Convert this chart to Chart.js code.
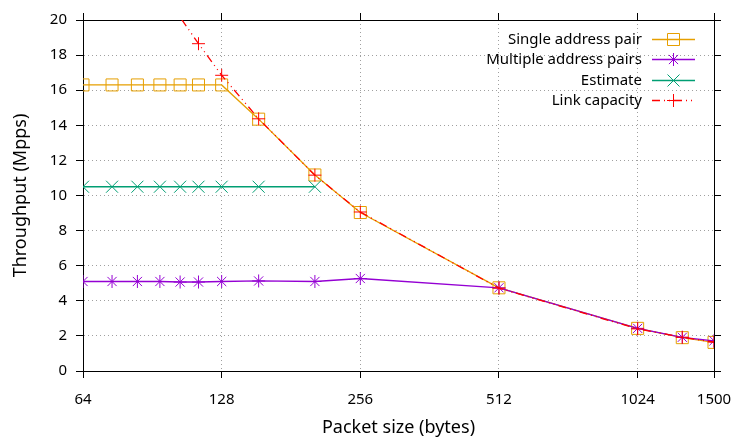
<!DOCTYPE html>
<html>
<head>
<meta charset="utf-8">
<script src="https://cdn.jsdelivr.net/npm/chart.js@4/dist/chart.umd.min.js"></script>
<style>
  html, body { margin: 0; padding: 0; background: #fff; }
  #wrap { width: 732px; height: 439px; }
</style>
</head>
<body>
<div id="wrap"><canvas id="chart" width="732" height="439"></canvas></div>
<script>
// ===== DATA =====
const packetSizes = [64, 74, 84, 94, 104, 114, 128, 154, 204, 256, 512, 1024, 1280, 1500];
const singlePair   = [16.3, 16.3, 16.3, 16.3, 16.3, 16.3, 16.3, 14.35, 11.17, 9.03, 4.74, 2.43, 1.9, 1.63];
const multiplePairs = [5.1, 5.1, 5.1, 5.1, 5.07, 5.07, 5.1, 5.13, 5.1, 5.27, 4.74, 2.43, 1.92, 1.72];
const estimate     = [10.5, 10.5, 10.5, 10.5, 10.5, 10.5, 10.5, 10.5, 10.5, null, null, null, null, null];
const linkCapacity = [29.8, 26.6, 24.0, 21.9, 20.16, 18.65, 16.85, 14.37, 11.16, 9.06, 4.72, 2.4, 1.92, 1.65];
const xTicks = [64, 128, 256, 512, 1024, 1500];
const yMin = 0, yMax = 20, yStep = 2;

const FONT = "'Noto Sans', sans-serif";
Chart.defaults.font.family = FONT;
Chart.defaults.font.size = 15;
Chart.defaults.color = '#000';

const toPoints = vals => packetSizes.map((x, i) => ({ x, y: vals[i] })).filter(p => p.y !== null);

const series = [
  { label: 'Single address pair', values: singlePair, color: '#e69f00', marker: 'square', dash: [] },
  { label: 'Multiple address pairs', values: multiplePairs, color: '#9400d3', marker: 'star', dash: [] },
  { label: 'Estimate', values: estimate, color: '#009e73', marker: 'x', dash: [] },
  { label: 'Link capacity', values: linkCapacity, color: '#ff0000', marker: 'plus', dash: [8, 4, 1, 4, 1, 4] },
];

// chart.js point styles for gnuplot-like markers
const styleMap = { square: 'rect', star: 'star', x: 'crossRot', plus: 'cross' };
const radiusMap = { square: 8.5, star: 6.5, x: 8.5, plus: 6.5 };

// ===== HELPERS =====
function drawMarker(ctx, kind, x, y, color) {
  ctx.save();
  ctx.strokeStyle = color;
  ctx.lineWidth = 1;
  ctx.setLineDash([]);
  ctx.beginPath();
  if (kind === 'square') {
    ctx.rect(x - 6, y - 6, 12, 12);
  } else if (kind === 'plus' || kind === 'star') {
    ctx.moveTo(x - 6.5, y); ctx.lineTo(x + 6.5, y);
    ctx.moveTo(x, y - 6.5); ctx.lineTo(x, y + 6.5);
  }
  if (kind === 'x' || kind === 'star') {
    const d = kind === 'x' ? 6 : 4.6;
    ctx.moveTo(x - d, y - d); ctx.lineTo(x + d, y + d);
    ctx.moveTo(x - d, y + d); ctx.lineTo(x + d, y - d);
  }
  ctx.stroke();
  ctx.restore();
}

// gnuplot style key, text right aligned with the sample on its right
const keyPlugin = {
  id: 'gnuKey',
  afterDraw(chart) {
    const ctx = chart.ctx;
    const textRight = 642, lineL = 652, lineR = 695, top = 39, rowH = 20.3;
    ctx.save();
    ctx.font = `15px ${FONT}`;
    ctx.textAlign = 'right';
    ctx.textBaseline = 'middle';
    series.forEach((s, i) => {
      const y = Math.round(top + i * rowH) + 0.5;
      ctx.fillStyle = '#000';
      ctx.fillText(s.label, textRight, y);
      ctx.strokeStyle = s.color;
      ctx.lineWidth = 1.3;
      ctx.setLineDash(s.dash);
      ctx.beginPath();
      ctx.moveTo(lineL, y);
      ctx.lineTo(lineR, y);
      ctx.stroke();
      drawMarker(ctx, s.marker, (lineL + lineR) / 2, y, s.color);
    });
    ctx.restore();
  }
};

const setXTicks = scale => { scale.ticks = xTicks.map(v => ({ value: v })); };

const gridOpts = (onArea) => ({
  drawOnChartArea: onArea,
  color: '#a0a0a0',
  lineWidth: 1,
  tickColor: '#000',
  tickLength: 7,
  tickWidth: 1,
});
const borderOpts = { color: '#000', width: 1, dash: [1, 3] };

// ===== CHART =====
new Chart(document.getElementById('chart'), {
  type: 'line',
  data: {
    datasets: series.map((s, i) => ({
      label: s.label,
      data: toPoints(s.values),
      borderColor: s.color,
      backgroundColor: 'transparent',
      borderWidth: 1.3,
      borderDash: s.dash,
      pointStyle: styleMap[s.marker],
      pointRadius: ctx => (ctx.raw && ctx.raw.y > yMax ? 0 : radiusMap[s.marker]),
      pointBorderWidth: 1,
      pointBorderColor: s.color,
      pointBackgroundColor: 'transparent',
      pointHoverRadius: 0,
      tension: 0,
      order: series.length - i,
    }))
  },
  options: {
    responsive: false,
    devicePixelRatio: 1,
    animation: false,
    events: [],
    layout: { padding: 0 },
    plugins: { legend: { display: false }, tooltip: { enabled: false } },
    scales: {
      x: {
        type: 'logarithmic',
        position: 'bottom',
        min: 64, max: 1500,
        afterBuildTicks: setXTicks,
        afterFit: s => { s.height = 68; s.paddingLeft = 0; s.paddingRight = 0; },
        ticks: { autoSkip: false, maxRotation: 0, padding: 13, callback: v => String(v) },
        grid: gridOpts(true),
        border: borderOpts,
        title: { display: true, text: 'Packet size (bytes)', font: { size: 18 }, padding: { top: 0, bottom: 0 } },
      },
      x2: {
        type: 'logarithmic',
        position: 'top',
        min: 64, max: 1500,
        afterBuildTicks: setXTicks,
        afterFit: s => { s.height = 20; s.paddingLeft = 0; s.paddingRight = 0; },
        ticks: { display: false },
        grid: gridOpts(false),
        border: { color: '#000', width: 1 },
      },
      y: {
        position: 'left',
        min: yMin, max: yMax,
        afterFit: s => { s.width = 83; s.paddingTop = 0; s.paddingBottom = 0; },
        ticks: { stepSize: yStep, padding: 9 },
        grid: gridOpts(true),
        border: borderOpts,
        title: { display: true, text: 'Throughput (Mpps)', font: { size: 18 }, padding: { top: 10, bottom: 10 } },
      },
      y2: {
        position: 'right',
        min: yMin, max: yMax,
        afterFit: s => { s.width = 18; s.paddingTop = 0; s.paddingBottom = 0; },
        ticks: { stepSize: yStep, display: false },
        grid: gridOpts(false),
        border: { color: '#000', width: 1 },
      },
    }
  },
  plugins: [keyPlugin]
});
</script>
</body>
</html>
